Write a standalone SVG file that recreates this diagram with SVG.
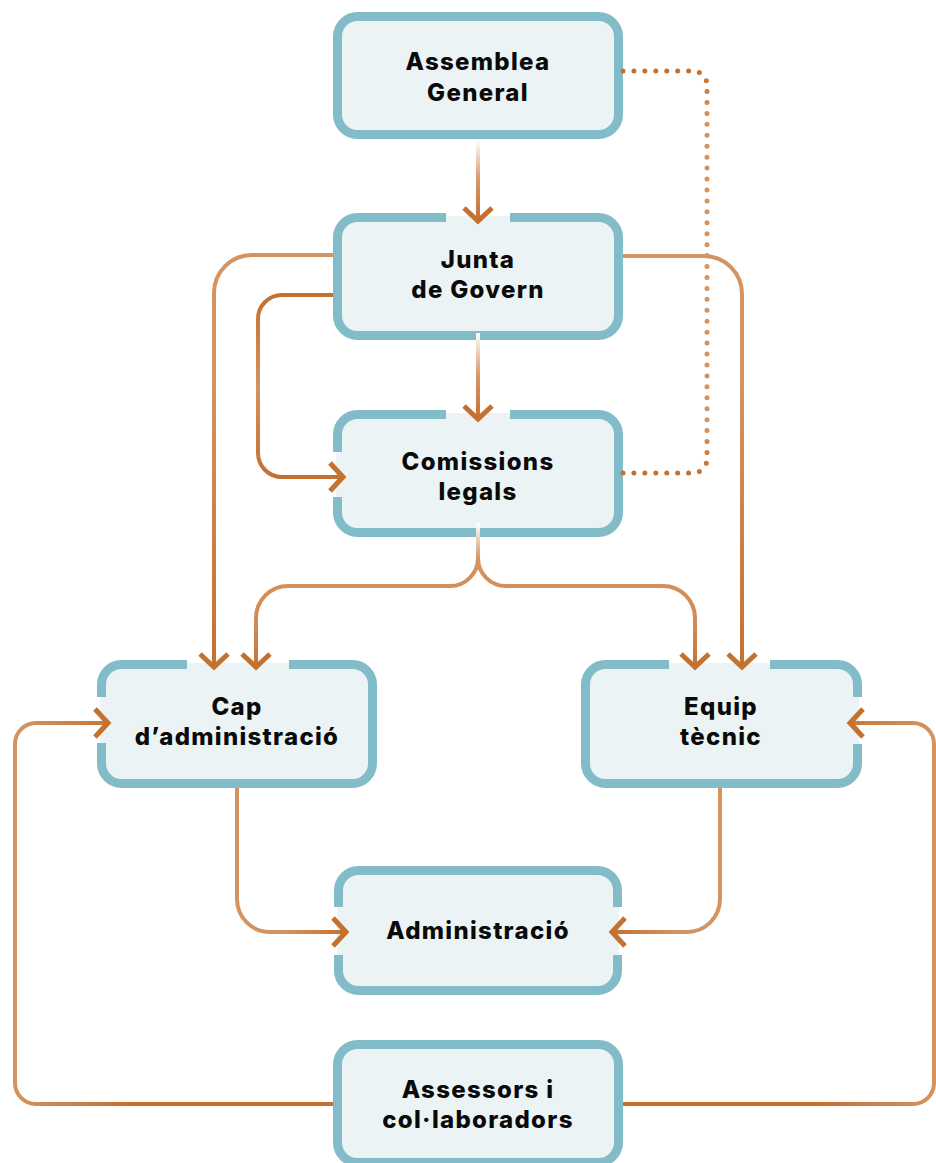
<svg xmlns="http://www.w3.org/2000/svg" width="936" height="1163" viewBox="0 0 936 1163">
<style>
.box{fill:#ebf3f5;stroke:#82bcc8;stroke-width:9}
.gw{fill:#ffffff}
.gf{fill:#ebf3f5}
.lbl{font-family:Inter,"Liberation Sans",sans-serif;font-weight:800;font-size:24px;letter-spacing:1.3px;fill:#0a0a0a;text-anchor:middle}
.ln{fill:none;stroke-width:4}
.dot{fill:none;stroke-width:5;stroke-linecap:round;stroke-dasharray:0 1}
</style>
<defs>
<marker id="ah" markerUnits="userSpaceOnUse" viewBox="-20 -20 24 40" refX="0" refY="0" markerWidth="24" markerHeight="40" orient="auto" overflow="visible">
<path d="M-13,-14 L0,0 L-13,14" fill="none" stroke="#c4702f" stroke-width="5"/>
</marker>
<linearGradient id="g1" gradientUnits="userSpaceOnUse" x1="0" y1="140" x2="0" y2="222"><stop offset="0" stop-color="#ffffff"/><stop offset="0.5" stop-color="#d69466"/><stop offset="1" stop-color="#c4702f"/></linearGradient>
<linearGradient id="g2" gradientUnits="userSpaceOnUse" x1="0" y1="333" x2="0" y2="420"><stop offset="0" stop-color="#ffffff"/><stop offset="0.5" stop-color="#d69466"/><stop offset="1" stop-color="#c4702f"/></linearGradient>
<linearGradient id="g3" gradientUnits="userSpaceOnUse" x1="0" y1="255" x2="0" y2="670"><stop offset="0" stop-color="#d4935f"/><stop offset="0.3" stop-color="#d4935f"/><stop offset="1" stop-color="#c4702f"/></linearGradient>
<linearGradient id="g4" gradientUnits="userSpaceOnUse" x1="0" y1="295" x2="0" y2="477"><stop offset="0" stop-color="#c4702f"/><stop offset="0.5" stop-color="#d4935f"/><stop offset="1" stop-color="#c4702f"/></linearGradient>
<linearGradient id="g6" gradientUnits="userSpaceOnUse" x1="0" y1="523" x2="0" y2="670"><stop offset="0" stop-color="#ffffff"/><stop offset="0.25" stop-color="#d4935f"/><stop offset="0.7" stop-color="#d08a55"/><stop offset="1" stop-color="#c4702f"/></linearGradient>
<linearGradient id="g7" gradientUnits="userSpaceOnUse" x1="237" y1="0" x2="348" y2="0"><stop offset="0" stop-color="#d4935f"/><stop offset="0.4" stop-color="#d4935f"/><stop offset="1" stop-color="#c4702f"/></linearGradient>
<linearGradient id="g8" gradientUnits="userSpaceOnUse" x1="720" y1="0" x2="610" y2="0"><stop offset="0" stop-color="#d4935f"/><stop offset="0.4" stop-color="#d4935f"/><stop offset="1" stop-color="#c4702f"/></linearGradient>
<linearGradient id="g9" gradientUnits="userSpaceOnUse" x1="15" y1="0" x2="130" y2="0"><stop offset="0" stop-color="#d4935f"/><stop offset="1" stop-color="#c4702f"/></linearGradient>
<linearGradient id="g10" gradientUnits="userSpaceOnUse" x1="934" y1="0" x2="818" y2="0"><stop offset="0" stop-color="#d4935f"/><stop offset="1" stop-color="#c4702f"/></linearGradient>
<linearGradient id="g11" gradientUnits="userSpaceOnUse" x1="0" y1="71" x2="0" y2="473"><stop offset="0" stop-color="#c4702f"/><stop offset="0.12" stop-color="#d4935f"/><stop offset="0.88" stop-color="#d4935f"/><stop offset="1" stop-color="#c4702f"/></linearGradient>
</defs>

<g id="node-assemblea">
<rect class="box" x="337.5" y="16.5" width="281" height="118" rx="20"/>
<text class="lbl" x="478" y="70">Assemblea</text>
<text class="lbl" x="478" y="101">General</text>
</g>

<g id="node-junta">
<rect class="box" x="337.5" y="217.5" width="281" height="118" rx="20"/>
<rect class="gw" x="446" y="212" width="64" height="11"/>
<rect class="gf" x="446" y="216" width="64" height="8"/>
<text class="lbl" x="478" y="268">Junta</text>
<text class="lbl" x="478" y="298">de Govern</text>
</g>

<g id="node-comissions">
<rect class="box" x="337.5" y="414.5" width="281" height="118" rx="20"/>
<rect class="gw" x="446" y="409" width="64" height="11"/>
<rect class="gf" x="446" y="413" width="64" height="8"/>
<rect class="gw" x="332" y="452" width="11" height="45"/>
<rect class="gf" x="336" y="452" width="8" height="45"/>
<text class="lbl" x="478" y="470">Comissions</text>
<text class="lbl" x="478" y="500">legals</text>
</g>

<g id="node-cap">
<rect class="box" x="101.5" y="664.5" width="271" height="119" rx="20"/>
<rect class="gw" x="187" y="659" width="102" height="11"/>
<rect class="gf" x="187" y="663" width="102" height="8"/>
<rect class="gw" x="96" y="697" width="11" height="46"/>
<rect class="gf" x="100" y="697" width="8" height="46"/>
<text class="lbl" x="237" y="715">Cap</text>
<text class="lbl" x="237" y="745">d’administració</text>
</g>

<g id="node-equip">
<rect class="box" x="585.5" y="664.5" width="272" height="119" rx="20"/>
<rect class="gw" x="669" y="659" width="101" height="11"/>
<rect class="gf" x="669" y="663" width="101" height="8"/>
<rect class="gw" x="852" y="697" width="11" height="47"/>
<rect class="gf" x="852" y="697" width="7" height="47"/>
<text class="lbl" x="721" y="715">Equip</text>
<text class="lbl" x="721" y="745">tècnic</text>
</g>

<g id="node-administracio">
<rect class="box" x="338.5" y="870.5" width="279" height="120" rx="20"/>
<rect class="gw" x="333" y="907" width="11" height="48"/>
<rect class="gf" x="337" y="907" width="8" height="48"/>
<rect class="gw" x="612" y="907" width="11" height="48"/>
<rect class="gf" x="612" y="907" width="7" height="48"/>
<text class="lbl" x="478" y="939">Administració</text>
</g>

<g id="node-assessors">
<rect class="box" x="337.5" y="1044.5" width="281" height="118" rx="20"/>
<text class="lbl" x="478" y="1098">Assessors i</text>
<text class="lbl" x="478" y="1128">col·laboradors</text>
</g>

<g id="connectors">
<path class="ln" stroke="url(#g1)" d="M478,140 V221" marker-end="url(#ah)"/>
<path class="dot" stroke="url(#g11)" pathLength="51" d="M623,71 H693 A14,14 0 0 1 707,85 V459 A14,14 0 0 1 693,473 H623"/>
<path class="ln" stroke="url(#g2)" d="M478,333 V419" marker-end="url(#ah)"/>
<path class="ln" stroke="url(#g3)" d="M333,255 H252 A38,38 0 0 0 214,293 V667" marker-end="url(#ah)"/>
<path class="ln" stroke="url(#g4)" d="M333,295 H282 A24,24 0 0 0 258,319 V453 A24,24 0 0 0 282,477 H343" marker-end="url(#ah)"/>
<path class="ln" stroke="url(#g3)" d="M623,256 H704 A38,38 0 0 1 742,294 V667" marker-end="url(#ah)"/>
<path class="ln" stroke="url(#g6)" d="M478,523 V558 A28,28 0 0 1 450,586 H288 A32,32 0 0 0 256,618 V667" marker-end="url(#ah)"/>
<path class="ln" stroke="url(#g6)" d="M478,558 A28,28 0 0 0 506,586 H663 A32,32 0 0 1 695,618 V667" marker-end="url(#ah)"/>
<path class="ln" stroke="url(#g7)" d="M237,788 V899 A33,33 0 0 0 270,932 H346" marker-end="url(#ah)"/>
<path class="ln" stroke="url(#g8)" d="M720,788 V899 A33,33 0 0 1 687,932 H612" marker-end="url(#ah)"/>
<path class="ln" stroke="url(#g9)" d="M333,1104 H36 A21,21 0 0 1 15,1083 V744 A21,21 0 0 1 36,723 H108" marker-end="url(#ah)"/>
<path class="ln" stroke="url(#g10)" d="M623,1104 H913 A21,21 0 0 0 934,1083 V744 A21,21 0 0 0 913,723 H850" marker-end="url(#ah)"/>
</g>
</svg>
